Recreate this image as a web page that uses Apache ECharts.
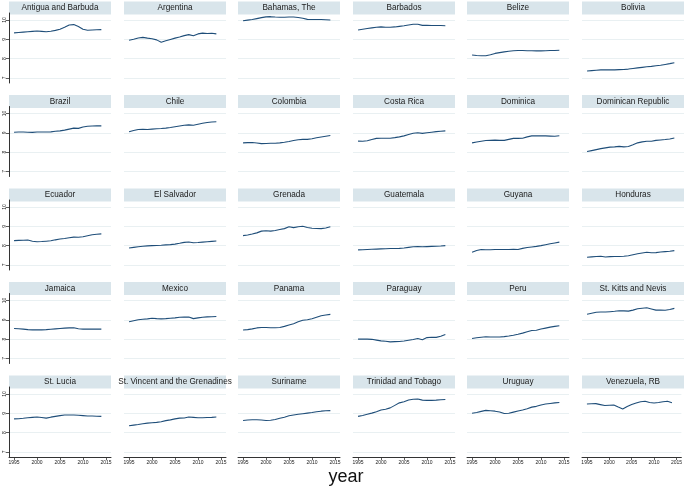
<!DOCTYPE html>
<html>
<head>
<meta charset="utf-8">
<script src="https://cdn.jsdelivr.net/npm/echarts@6/dist/echarts.min.js"></script>
<style>html,body{margin:0;padding:0;background:#fff}#c{width:685px;height:486px}</style>
</head>
<body>
<div id="c"></div>
<script>
const years = [1995,1996,1997,1998,1999,2000,2001,2002,2003,2004,2005,2006,2007,2008,2009,2010,2011,2012,2013,2014];
const yTicks = [7, 8, 9, 10];
const xTicks = [1995, 2000, 2005, 2010, 2015];
const countries = ["Antigua and Barbuda","Argentina","Bahamas, The","Barbados","Belize","Bolivia",
  "Brazil","Chile","Colombia","Costa Rica","Dominica","Dominican Republic",
  "Ecuador","El Salvador","Grenada","Guatemala","Guyana","Honduras",
  "Jamaica","Mexico","Panama","Paraguay","Peru","St. Kitts and Nevis",
  "St. Lucia","St. Vincent and the Grenadines","Suriname","Trinidad and Tobago","Uruguay","Venezuela, RB"];

const antigua   = [9.33,9.35,9.37,9.39,9.41,9.43,9.41,9.39,9.42,9.46,9.52,9.62,9.74,9.76,9.66,9.52,9.47,9.48,9.49,9.50];
const argentina = [8.95,9.00,9.07,9.10,9.06,9.03,8.97,8.85,8.92,8.99,9.06,9.12,9.19,9.24,9.18,9.28,9.32,9.30,9.31,9.28];
const bahamas   = [9.96,9.99,10.02,10.07,10.12,10.16,10.17,10.15,10.14,10.14,10.15,10.15,10.13,10.09,10.03,10.02,10.02,10.02,10.01,10.00];
const barbados  = [9.48,9.52,9.56,9.59,9.62,9.64,9.62,9.62,9.64,9.67,9.70,9.74,9.78,9.78,9.72,9.72,9.71,9.71,9.71,9.70];
const belize    = [8.19,8.16,8.15,8.15,8.20,8.27,8.31,8.35,8.38,8.41,8.42,8.42,8.41,8.41,8.40,8.40,8.41,8.42,8.42,8.43];
const bolivia   = [7.36,7.38,7.40,7.42,7.42,7.42,7.42,7.43,7.44,7.46,7.49,7.52,7.55,7.58,7.60,7.63,7.66,7.70,7.74,7.79];
const brazil    = [9.03,9.04,9.04,9.03,9.02,9.04,9.04,9.04,9.05,9.08,9.10,9.14,9.19,9.24,9.23,9.30,9.34,9.35,9.36,9.36];
const chile     = [9.05,9.12,9.17,9.18,9.17,9.19,9.21,9.22,9.24,9.27,9.31,9.35,9.39,9.41,9.39,9.44,9.49,9.53,9.56,9.57];
const colombia  = [8.48,8.49,8.50,8.47,8.44,8.45,8.46,8.46,8.48,8.51,8.55,8.60,8.64,8.66,8.66,8.69,8.74,8.78,8.82,8.86];
const costaRica = [8.57,8.56,8.59,8.65,8.71,8.72,8.72,8.72,8.75,8.79,8.84,8.91,8.98,9.00,8.97,9.00,9.03,9.06,9.08,9.10];
const dominica  = [8.48,8.52,8.56,8.60,8.61,8.62,8.61,8.61,8.66,8.71,8.71,8.72,8.79,8.84,8.84,8.84,8.84,8.83,8.82,8.85];
const domRep    = [8.03,8.08,8.13,8.18,8.22,8.26,8.27,8.30,8.27,8.29,8.38,8.48,8.53,8.56,8.56,8.61,8.63,8.65,8.68,8.73];
const ecuador   = [8.26,8.27,8.28,8.29,8.23,8.20,8.21,8.23,8.25,8.30,8.34,8.37,8.41,8.44,8.43,8.46,8.51,8.56,8.59,8.61];
const elSalvador= [7.88,7.91,7.94,7.97,7.99,8.00,8.01,8.02,8.04,8.05,8.08,8.12,8.17,8.19,8.15,8.16,8.18,8.20,8.22,8.24];
const grenada   = [8.52,8.55,8.60,8.66,8.75,8.77,8.75,8.78,8.83,8.88,8.98,8.93,8.98,9.00,8.94,8.90,8.89,8.88,8.91,8.98];
const guatemala = [7.78,7.79,7.80,7.81,7.82,7.83,7.84,7.85,7.85,7.86,7.88,7.91,7.94,7.95,7.94,7.95,7.96,7.97,7.98,8.00];
const guyana    = [7.66,7.75,7.80,7.79,7.79,7.80,7.80,7.80,7.80,7.81,7.80,7.86,7.90,7.93,7.96,8.00,8.05,8.10,8.14,8.18];
const honduras  = [7.40,7.42,7.44,7.45,7.41,7.43,7.44,7.44,7.45,7.48,7.53,7.58,7.62,7.66,7.63,7.64,7.67,7.69,7.71,7.74];
const jamaica   = [8.55,8.54,8.52,8.49,8.48,8.48,8.48,8.49,8.51,8.53,8.55,8.57,8.58,8.59,8.54,8.52,8.52,8.52,8.52,8.52];
const mexico    = [8.90,8.95,9.00,9.03,9.05,9.08,9.06,9.05,9.06,9.08,9.10,9.13,9.14,9.14,9.06,9.10,9.13,9.15,9.16,9.17];
const panama    = [8.47,8.49,8.53,8.58,8.60,8.60,8.59,8.59,8.60,8.66,8.73,8.80,8.90,8.98,9.00,9.05,9.13,9.21,9.25,9.28];
const paraguay  = [8.00,8.00,8.00,7.99,7.95,7.91,7.89,7.86,7.87,7.88,7.90,7.94,7.98,8.03,7.97,8.08,8.10,8.09,8.15,8.24];
const peru      = [8.03,8.07,8.10,8.12,8.11,8.11,8.11,8.13,8.16,8.20,8.25,8.31,8.38,8.45,8.46,8.52,8.57,8.62,8.66,8.69];
const stKitts   = [9.29,9.34,9.39,9.40,9.40,9.42,9.44,9.47,9.46,9.45,9.50,9.57,9.60,9.62,9.56,9.50,9.50,9.49,9.53,9.59];
const stLucia   = [8.71,8.72,8.74,8.77,8.79,8.81,8.78,8.75,8.80,8.84,8.88,8.91,8.91,8.91,8.90,8.88,8.86,8.86,8.85,8.84];
const stVincent = [8.36,8.39,8.42,8.46,8.49,8.51,8.53,8.56,8.62,8.66,8.71,8.75,8.76,8.81,8.79,8.77,8.77,8.78,8.79,8.81];
const suriname  = [8.63,8.65,8.67,8.67,8.65,8.63,8.64,8.68,8.74,8.80,8.87,8.91,8.95,8.98,9.01,9.04,9.08,9.11,9.13,9.14];
const trinidad  = [8.84,8.89,8.95,9.01,9.08,9.17,9.21,9.28,9.41,9.54,9.60,9.69,9.73,9.74,9.68,9.67,9.67,9.68,9.70,9.71];
const uruguay   = [9.00,9.04,9.10,9.15,9.13,9.11,9.07,8.99,9.00,9.06,9.12,9.17,9.24,9.32,9.36,9.43,9.48,9.51,9.54,9.56];
const venezuela = [9.48,9.49,9.50,9.45,9.40,9.42,9.43,9.32,9.22,9.35,9.45,9.53,9.60,9.62,9.56,9.53,9.56,9.60,9.62,9.55];

const seriesValues = [antigua,argentina,bahamas,barbados,belize,bolivia,
  brazil,chile,colombia,costaRica,dominica,domRep,
  ecuador,elSalvador,grenada,guatemala,guyana,honduras,
  jamaica,mexico,panama,paraguay,peru,stKitts,
  stLucia,stVincent,suriname,trinidad,uruguay,venezuela];

// layout
const colLeft = [9, 124, 238, 353, 467, 582];
const rowY10 = [20, 113.5, 207, 300.5, 394];
const panelW = 102;
const FONT = '"Liberation Sans", Arial, Helvetica, sans-serif';
const lineColor = '#1f4e79';
const gridColor = '#e9f0f2';
const headerColor = '#d9e5eb';

const grids = [], xAxes = [], yAxes = [], series = [], graphics = [];
countries.forEach((name, i) => {
  const r = Math.floor(i / 6), c = i % 6;
  const left = colLeft[c], y10 = rowY10[r];
  const isBottom = r === 4, isLeft = c === 0;
  grids.push({left: left, top: y10 - 7, width: panelW, height: 70});
  xAxes.push({
    gridIndex: i, type: 'value', min: 1993.9, max: 2016.1,
    show: true,
    axisLine: {show: isBottom, onZero: false, lineStyle: {color: '#333', width: 1}},
    axisTick: {show: isBottom, length: 3, customValues: xTicks, lineStyle: {color: '#333', width: 0.8}},
    axisLabel: {show: isBottom, customValues: xTicks, fontSize: 5, color: '#222', margin: 3, fontFamily: FONT,
      formatter: v => String(v)},
    splitLine: {show: false}
  });
  yAxes.push({
    gridIndex: i, type: 'value', min: 6.74, max: 10.36,
    axisLine: {show: isLeft, lineStyle: {color: '#333', width: 1}},
    axisTick: {show: isLeft, length: 3, customValues: yTicks, lineStyle: {color: '#333', width: 0.8}},
    axisLabel: {show: isLeft, customValues: yTicks, fontSize: 5, rotate: 90, color: '#222', margin: 1.5, fontFamily: FONT,
      formatter: v => String(v)},
    splitLine: {show: true, lineStyle: {color: gridColor, width: 1}}
  });
  series.push({
    type: 'line', xAxisIndex: i, yAxisIndex: i,
    data: years.map((y, k) => [y, seriesValues[i][k]]),
    showSymbol: false, symbol: 'none', silent: true,
    lineStyle: {color: lineColor, width: 1.1}
  });
  graphics.push({
    type: 'rect', silent: true,
    shape: {x: left, y: y10 - 18.5, width: panelW, height: 13},
    style: {fill: headerColor}
  });
  graphics.push({
    type: 'text', silent: true,
    style: {text: name, x: left + panelW / 2, y: y10 - 11.8, textAlign: 'center', textVerticalAlign: 'middle',
      font: '8.2px ' + FONT, fill: '#1a1a1a'}
  });
});
graphics.push({
  type: 'text', silent: true,
  style: {text: 'year', x: 346, y: 477, textAlign: 'center', textVerticalAlign: 'middle',
    font: '18px ' + FONT, fill: '#111'}
});

const chart = echarts.init(document.getElementById('c'), null, {renderer: 'canvas'});
chart.setOption({
  animation: false,
  backgroundColor: '#ffffff',
  grid: grids, xAxis: xAxes, yAxis: yAxes, series: series,
  graphic: graphics
});
</script>
</body>
</html>
